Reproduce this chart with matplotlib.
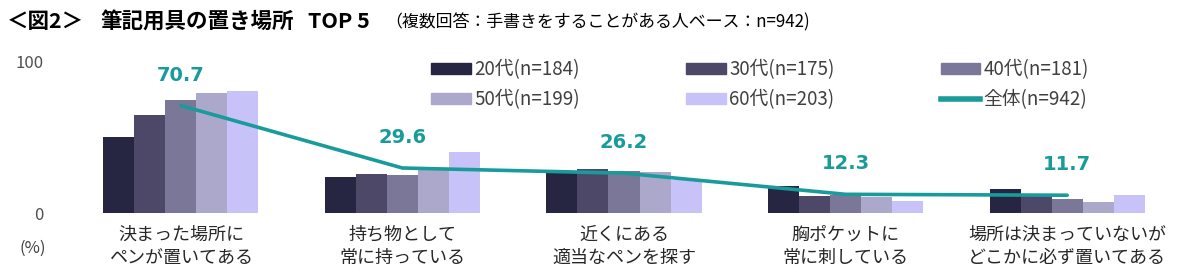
import matplotlib
matplotlib.use("Agg")
import matplotlib.pyplot as plt
import numpy as np
from matplotlib.lines import Line2D
from matplotlib.patches import Patch

plt.rcParams['font.family'] = ['Noto Sans CJK JP', 'DejaVu Sans']

categories = ["決まった場所に\nペンが置いてある", "持ち物として\n常に持っている", "近くにある\n適当なペンを探す",
              "胸ポケットに\n常に刺している", "場所は決まっていないが\nどこかに必ず置いてある"]
series_names = ["20代(n=184)", "30代(n=175)", "40代(n=181)", "50代(n=199)", "60代(n=203)"]
v20 = [50.0, 23.7, 26.1, 18.0, 16.0]
v30 = [64.5, 25.4, 28.7, 11.2, 11.0]
v40 = [74.3, 25.2, 27.8, 11.6, 9.0]
v50 = [78.7, 29.3, 26.8, 10.3, 7.5]
v60 = [80.5, 40.0, 21.7, 7.9, 11.6]
total_name = "全体(n=942)"
total = [70.7, 29.6, 26.2, 12.3, 11.7]

colors = ["#262642", "#4d4868", "#7b7799", "#aca8cc", "#c7c3f9"]
teal = "#1a9b9b"

W, H = 1200, 280
fig = plt.figure(figsize=(12, 2.8), dpi=100)
ax = fig.add_axes([70 / W, (H - 213) / H, (1178 - 70) / W, 152 / H])

x = np.arange(len(categories))
bw = 0.14
all_series = [v20, v30, v40, v50, v60]
for i, (vals, c) in enumerate(zip(all_series, colors)):
    ax.bar(x + (i - 2) * bw, vals, width=bw, color=c, label=series_names[i], zorder=2)

ax.plot(x, total, color=teal, lw=2.6, zorder=3, solid_capstyle='round')
for xi, v in zip(x, total):
    ax.text(xi, v + 20, f"{v:.1f}", ha='center', va='center', color=teal,
            fontsize=14, fontweight='bold', family='DejaVu Sans', zorder=4)

ax.set_xlim(-0.5, len(categories) - 0.5)
ax.set_ylim(0, 100)
ax.set_yticks([0, 100])
ax.set_yticklabels(["0", "100"], color="#505050", fontsize=12)
ax.tick_params(axis='y', length=0, pad=19)
ax.set_xticks(x)
ax.set_xticklabels(categories, fontsize=13, color="#262626", linespacing=1.4)
ax.tick_params(axis='x', length=0, pad=9)
for s in ax.spines.values():
    s.set_visible(False)

fig.text(33 / W, 1 - 248 / H, "(%)", ha='center', va='center', fontsize=12, color="#404040")

# title
fig.text(7 / W, 1 - 22 / H, "＜図2＞", ha='left', va='center', fontsize=15.5, fontweight='bold', color="#000000")
fig.text(100 / W, 1 - 22 / H, "筆記用具の置き場所", ha='left', va='center', fontsize=15.5, fontweight='bold', color="#000000")
fig.text(308 / W, 1 - 22 / H, "TOP 5", ha='left', va='center', fontsize=15.5, fontweight='bold', color="#000000")
fig.text(385 / W, 1 - 22 / H, "（複数回答：手書きをすることがある人ベース：n=942)", ha='left', va='center',
         fontsize=12.2, color="#000000")

# legend (rows: 20,30,40 / 50,60,total)
h = [Patch(color=c) for c in colors]
lh = Line2D([0], [0], color=teal, lw=4)
handles = [h[0], h[3], h[1], h[4], h[2], lh]
labels = [series_names[0], series_names[3], series_names[1], series_names[4], series_names[2], total_name]
leg = fig.legend(handles, labels, ncol=3, loc='upper left', bbox_to_anchor=(431 / W, 1 - 59 / H),
                 frameon=False, fontsize=13.5, handlelength=2.13, handleheight=0.55, handletextpad=0.18,
                 columnspacing=5.65, labelspacing=0.5, borderpad=0, borderaxespad=0)
for t in leg.get_texts():
    t.set_color("#404040")

fig.savefig("out.png", dpi=100)
